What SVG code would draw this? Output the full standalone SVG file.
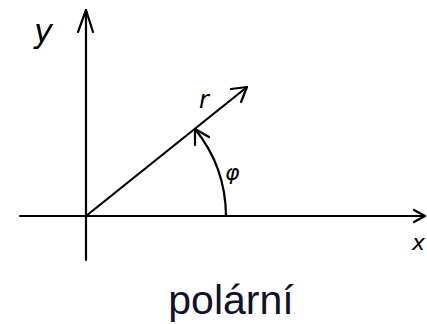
<svg xmlns="http://www.w3.org/2000/svg" width="427" height="324" viewBox="0 0 427 324">
<style>
.ln{stroke:#000;stroke-width:2.2;fill:none;stroke-linecap:round;stroke-linejoin:round}
.hand{font-family:"DejaVu Sans",sans-serif;font-style:italic;fill:#000}
.cap{font-family:"Liberation Sans",Arial,sans-serif;font-size:41px;fill:#11112e}
</style>
<rect width="427" height="324" fill="#fff"/>
<g id="connectors">
<path id="x-axis" class="ln" d="M20 216 H425"/>
<path class="ln" d="M414 210 L425 216 L414 222"/>
<path id="y-axis" class="ln" d="M86 260 V10"/>
<path class="ln" d="M78 32 L86 10 L93 32"/>
<path id="r-vector" class="ln" d="M86 216 L247 87"/>
<path class="ln" d="M231 89 L247 87 L241 102"/>
<path id="phi-arc" class="ln" d="M226 216 A140 140 0 0 0 195 129"/>
<path class="ln" d="M195 145 L195 129 L209 137"/>
</g>
<g id="label-y"><text class="hand" x="34" y="42" font-size="32">y</text></g>
<g id="label-r"><text class="hand" x="199" y="108" font-size="24">r</text></g>
<g id="label-phi"><text class="hand" x="225" y="180" font-size="22">φ</text></g>
<g id="label-x"><text class="hand" x="412" y="250" font-size="22">x</text></g>
<g id="caption"><text class="cap" x="231" y="314" text-anchor="middle">polární</text></g>
</svg>
